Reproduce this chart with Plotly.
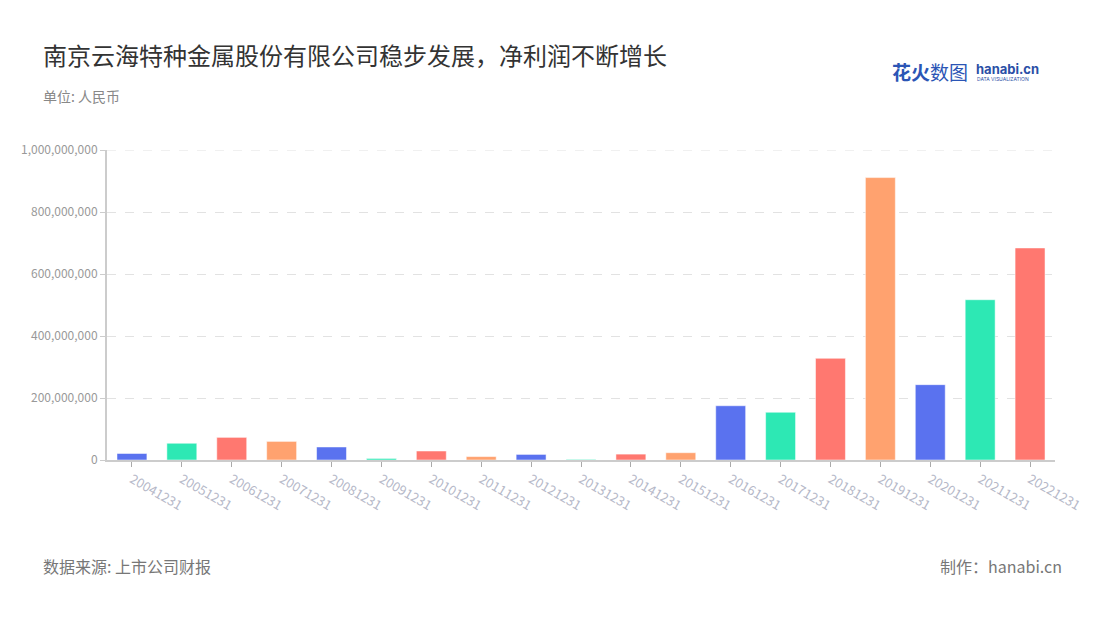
import plotly.graph_objects as go

categories = ["20041231", "20051231", "20061231", "20071231", "20081231", "20091231",
              "20101231", "20111231", "20121231", "20131231", "20141231", "20151231",
              "20161231", "20171231", "20181231", "20191231", "20201231", "20211231",
              "20221231"]
net_profit = [21e6, 54e6, 73e6, 60e6, 42e6, 5e6, 29e6, 11e6, 18e6, 2e6, 19e6, 23.5e6,
              175e6, 154e6, 328e6, 911e6, 243e6, 517e6, 684e6]
palette = ["#5A72EF", "#2DE8B4", "#FF7870", "#FFA26F"]
y_ticks = [0, 200e6, 400e6, 600e6, 800e6, 1000e6]

colors = [palette[i % 4] for i in range(len(categories))]
FONT = "Noto Sans CJK SC, Noto Sans, sans-serif"

fig = go.Figure(go.Bar(
    x=categories, y=net_profit,
    marker=dict(color=colors, line=dict(color="rgba(255,255,255,0.5)", width=1)),
    hoverinfo="x+y",
))

# page is rendered with an 8px body margin, so offsets compensate
fig.update_layout(
    width=1100, height=620,
    margin=dict(l=99, r=53, t=142, b=168),
    paper_bgcolor="white", plot_bgcolor="white",
    font=dict(family=FONT, color="#999"),
    showlegend=False,
    bargap=0.4,
    xaxis=dict(
        type="category", tickangle=30, showgrid=False,
        showline=True, linecolor="#cccccc", linewidth=2,
        ticks="outside", ticklen=5, tickcolor="#aaaaaa", tickwidth=1,
        tickfont=dict(size=13, color="#b5b8c8", family=FONT),
    ),
    yaxis=dict(
        range=[0, 1e9], tickvals=y_ticks, tickformat=",",
        showline=True, linecolor="#cccccc", linewidth=2,
        ticks="outside", ticklen=5, tickcolor="#cccccc",
        showgrid=True, gridcolor="#e2e2e2", griddash="dash", gridwidth=1,
        zeroline=False,
        tickfont=dict(size=12, color="#999999", family=FONT),
    ),
)

# top gridline at the axis maximum
fig.add_shape(type="line", xref="paper", yref="y", x0=0, x1=1,
              y0=y_ticks[-1], y1=y_ticks[-1],
              line=dict(color="#e2e2e2", width=1, dash="dash"), layer="below")


# positions below are in page pixels; plot area spans x 107..1055, y 150..460
def px(x):
    return (x - 107) / 948


def py(y):
    return (460 - y) / 310


ann = [
    dict(text="南京云海特种金属股份有限公司稳步发展，净利润不断增长", x=41, y=54,
         font=dict(size=24, color="#333333")),
    dict(text="单位: 人民币", x=41, y=96, font=dict(size=14, color="#888888")),
    dict(text="数据来源: 上市公司财报", x=41, y=566, font=dict(size=16, color="#777777")),
]
for a in ann:
    fig.add_annotation(text=a["text"], xref="paper", yref="paper",
                       x=px(a["x"]), y=py(a["y"]),
                       xanchor="left", yanchor="middle", showarrow=False,
                       font=dict(family=FONT, **a["font"]))
fig.add_annotation(text="制作：hanabi.cn", xref="paper", yref="paper",
                   x=px(1064), y=py(566),
                   xanchor="right", yanchor="middle", showarrow=False,
                   font=dict(family=FONT, size=16, color="#777777"))
# logo
fig.add_annotation(text="<b>花火</b>数图", xref="paper", yref="paper",
                   x=px(890), y=py(72),
                   xanchor="left", yanchor="middle", showarrow=False,
                   font=dict(family=FONT, size=19, color="#2B55B5"))
fig.add_annotation(text="<b>hanabi.cn</b>", xref="paper", yref="paper",
                   x=px(974), y=py(69),
                   xanchor="left", yanchor="middle", showarrow=False,
                   font=dict(family="Inter, sans-serif", size=13, color="#2B4FA6"))
fig.add_annotation(text="DATA VISUALIZATION", xref="paper", yref="paper",
                   x=px(975), y=py(79),
                   xanchor="left", yanchor="middle", showarrow=False,
                   font=dict(family="Inter, sans-serif", size=5, color="#2B4FA6"))

fig.write_html("out.html")
